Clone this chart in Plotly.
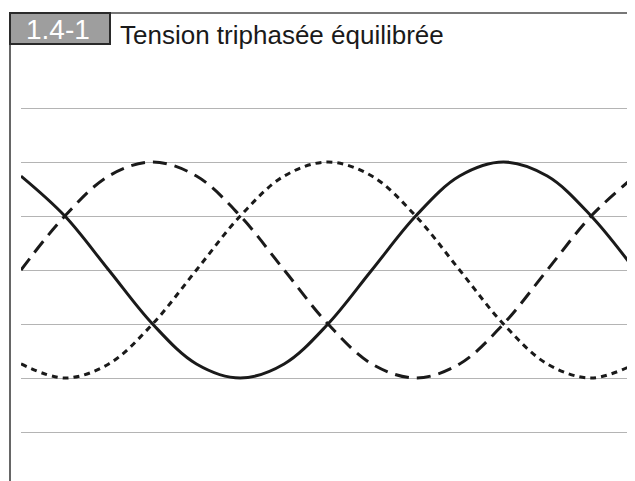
import plotly.graph_objects as go

# Phase angle (degrees)
angle = [0, 30, 60, 90, 120, 150, 180, 210, 240, 270, 300, 330, 360, 390, 420]
# Three phase voltages (per unit)
phase_solid = [0.87, 0.5, 0.0, -0.5, -0.87, -1.0, -0.87, -0.5, 0.0, 0.5, 0.87, 1.0, 0.87, 0.5, 0.0]
phase_dashed = [0.0, 0.5, 0.87, 1.0, 0.87, 0.5, 0.0, -0.5, -0.87, -1.0, -0.87, -0.5, 0.0, 0.5, 0.87]
phase_dotted = [-0.87, -1.0, -0.87, -0.5, 0.0, 0.5, 0.87, 1.0, 0.87, 0.5, 0.0, -0.5, -0.87, -1.0, -0.87]
grid_values = [-1.5, -1.0, -0.5, 0.0, 0.5, 1.0, 1.5]

fig_number = "1.4-1"
title_text = "Tension triphasée équilibrée"

# page geometry (the page body has an 8px margin)
OFF = 8
PW, PH = 635, 481
W, H = PW - OFF, PH - OFF
L = 21  # plot left edge in page pixels

def px(x):
    return (x - L) / (PW - L)

def py(y):
    return (PH - y) / (PH - OFF)

y_top = (270 - OFF) / 108
y_bot = -(PH - 270) / 108

fig = go.Figure()
for ys, dash in [(phase_dashed, "14px,8px"), (phase_dotted, "6px,5px"), (phase_solid, "solid")]:
    fig.add_trace(go.Scatter(x=angle, y=ys, mode="lines",
                             line=dict(color="#1a1a1a", width=3, dash=dash, shape="spline"),
                             showlegend=False, hoverinfo="skip"))

fig.update_layout(
    width=W, height=H,
    margin=dict(l=L - OFF, r=0, t=0, b=0, pad=0),
    paper_bgcolor="white", plot_bgcolor="white",
    xaxis=dict(range=[0, 420], showgrid=False, zeroline=False, showticklabels=False,
               ticks="", showline=False),
    yaxis=dict(range=[y_bot, y_top], tickvals=grid_values, showgrid=True,
               gridcolor="#b4b4b4", gridwidth=1.2, zeroline=False, showticklabels=False,
               ticks="", showline=False),
    shapes=[
        dict(type="line", xref="paper", yref="paper", x0=px(10), x1=px(10), y0=py(44), y1=py(481),
             line=dict(color="#333333", width=1.5)),
        dict(type="line", xref="paper", yref="paper", x0=px(110), x1=px(640), y0=py(13), y1=py(13),
             line=dict(color="#777777", width=2)),
        dict(type="rect", xref="paper", yref="paper", x0=px(10), x1=px(110), y0=py(44), y1=py(13),
             fillcolor="#9e9e9e", line=dict(color="#2a2a2a", width=2)),
    ],
    annotations=[
        dict(text=fig_number, xref="paper", yref="paper", x=px(58), y=py(30), xanchor="center",
             yanchor="middle", showarrow=False,
             font=dict(family="Liberation Sans, Arial, sans-serif", size=28, color="white")),
        dict(text=title_text, xref="paper", yref="paper", x=px(118), y=py(35.5), xanchor="left",
             yanchor="middle", showarrow=False,
             font=dict(family="Liberation Sans, Arial, sans-serif", size=26, color="#1a1a1a")),
    ],
)

fig.write_html("out.html")
